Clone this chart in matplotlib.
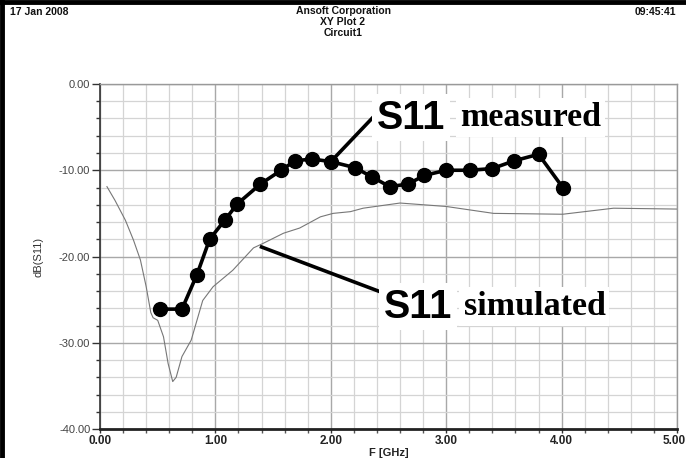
import numpy as np
import matplotlib.pyplot as plt
from matplotlib.lines import Line2D
from matplotlib.ticker import MultipleLocator

# measured S11 (dots)
f_meas = [0.52, 0.71, 0.84, 0.95, 1.08, 1.19, 1.39, 1.57, 1.69, 1.84, 2.00,
          2.21, 2.36, 2.51, 2.67, 2.81, 3.00, 3.21, 3.40, 3.59, 3.80, 4.01]
s11_meas = [-26.1, -26.1, -22.1, -18.0, -15.8, -13.9, -11.6, -10.0, -8.9, -8.7, -9.0,
            -9.7, -10.8, -11.9, -11.6, -10.6, -10.0, -10.0, -9.8, -8.9, -8.15, -12.0]

# simulated S11 (thin line)
f_sim = [0.06, 0.13, 0.22, 0.29, 0.35, 0.40, 0.44, 0.46, 0.50, 0.55, 0.59, 0.63,
         0.66, 0.71, 0.79, 0.89, 0.98, 1.15, 1.33, 1.41, 1.59, 1.73, 1.91, 2.02,
         2.17, 2.28, 2.60, 3.00, 3.41, 4.01, 4.45, 5.00]
s11_sim = [-11.9, -13.5, -15.8, -18.1, -20.4, -23.5, -26.5, -27.1, -27.4, -29.3, -32.4, -34.5,
           -34.0, -31.6, -29.7, -25.1, -23.5, -21.6, -19.0, -18.5, -17.3, -16.7, -15.4, -15.0,
           -14.8, -14.4, -13.8, -14.2, -15.0, -15.1, -14.4, -14.5]

yticks = [0, -10, -20, -30, -40]
xticks = [0, 1, 2, 3, 4, 5]

fig = plt.figure(figsize=(6.86, 4.58), dpi=100)
ax = fig.add_axes([0.1458, 0.0633, 0.8411, 0.7533])

ax.set_xlim(0, 5)
ax.set_ylim(-40, 0)

# grid
ax.xaxis.set_minor_locator(MultipleLocator(0.2))
ax.yaxis.set_minor_locator(MultipleLocator(2))
ax.set_xticks(xticks)
ax.set_yticks(yticks)
ax.grid(which='minor', color='#d4d4d4', linewidth=0.9)
ax.grid(which='major', color='#a8a8a8', linewidth=1.0)
ax.set_axisbelow(True)

xfont = dict(fontweight='bold', fontsize=8.5, family='Liberation Sans', color='#222222')
xlabs = ['%.2f' % v for v in xticks]
# last label is drawn by hand so that it stays inside the picture
ax.set_xticklabels(xlabs[:-1] + [''], **xfont)
ax.annotate(xlabs[-1], xy=(xticks[-1], 0), xycoords=('data', 'axes fraction'),
            xytext=(6, -4.6), textcoords='offset points', ha='right', va='top', **xfont)
ax.set_yticklabels(['%.2f' % v for v in yticks], fontsize=8,
                   family='Liberation Sans', color='#444444')
ax.tick_params(axis='y', which='major', length=6, width=1, color='#333333', pad=1)
ax.tick_params(axis='y', which='minor', length=3, width=1, color='#333333')
ax.tick_params(axis='x', which='major', length=3, width=1, color='#333333', pad=1)
ax.tick_params(axis='x', which='minor', length=3, width=1, color='#555555')

for s in ['top', 'right']:
    ax.spines[s].set_color('#999999')
    ax.spines[s].set_linewidth(1.0)
ax.spines['left'].set_color('#333333')
ax.spines['left'].set_linewidth(1.2)
ax.spines['bottom'].set_color('#222222')
ax.spines['bottom'].set_linewidth(2.0)

ax.set_ylabel('dB(S11)', fontsize=8, family='Liberation Sans', color='#333333', labelpad=11)
ax.set_xlabel('F [GHz]', fontsize=8, family='Liberation Sans', fontweight='bold',
              color='#222222', labelpad=1)

# curves
ax.plot(f_sim, s11_sim, color='#777777', linewidth=0.8)
ax.plot(f_meas, s11_meas, color='black', linewidth=2.6, marker='o', markersize=10)

# annotations
ax.plot([2.0, 2.37], [-9.0, -3.8], color='black', linewidth=2.6)
ax.plot([1.40, 2.45], [-18.9, -24.2], color='black', linewidth=2.6)

box = dict(boxstyle='square,pad=0.12', fc='white', ec='none')
ax.text(3.12, -3.9, 'measured', fontsize=24.5, fontweight='bold', family='Liberation Serif',
        va='center', ha='left', bbox=box)
ax.text(2.40, -3.9, 'S11', fontsize=28.5, fontweight='bold', family='Liberation Sans',
        va='center', ha='left', bbox=box)
ax.text(3.15, -25.8, 'simulated', fontsize=24.5, fontweight='bold', family='Liberation Serif',
        va='center', ha='left', bbox=box)
ax.text(2.46, -25.8, 'S11', fontsize=28.5, fontweight='bold', family='Liberation Sans',
        va='center', ha='left', bbox=box)

# header
hdr = dict(fontsize=7.5, fontweight='bold', family='Liberation Sans', color='#111111')
fig.text(10 / 686, 1 - 12 / 458, '17 Jan 2008', ha='left', va='center', **hdr)
fig.text(343 / 686, 1 - 11 / 458, 'Ansoft Corporation', ha='center', va='center', **hdr)
fig.text(343 / 686, 1 - 22 / 458, 'XY Plot 2', ha='center', va='center', **hdr)
fig.text(343 / 686, 1 - 33 / 458, 'Circuit1', ha='center', va='center', **hdr)
fig.text(676 / 686, 1 - 12 / 458, '09:45:41', ha='right', va='center', **hdr)

# outer frame (left and top edges)
fig.add_artist(Line2D([2 / 686, 2 / 686], [0, 1], color='black', linewidth=3.5,
                      transform=fig.transFigure))
fig.add_artist(Line2D([0, 1], [1 - 2 / 458, 1 - 2 / 458], color='black', linewidth=3.5,
                      transform=fig.transFigure))

fig.savefig('out.png', dpi=100)
